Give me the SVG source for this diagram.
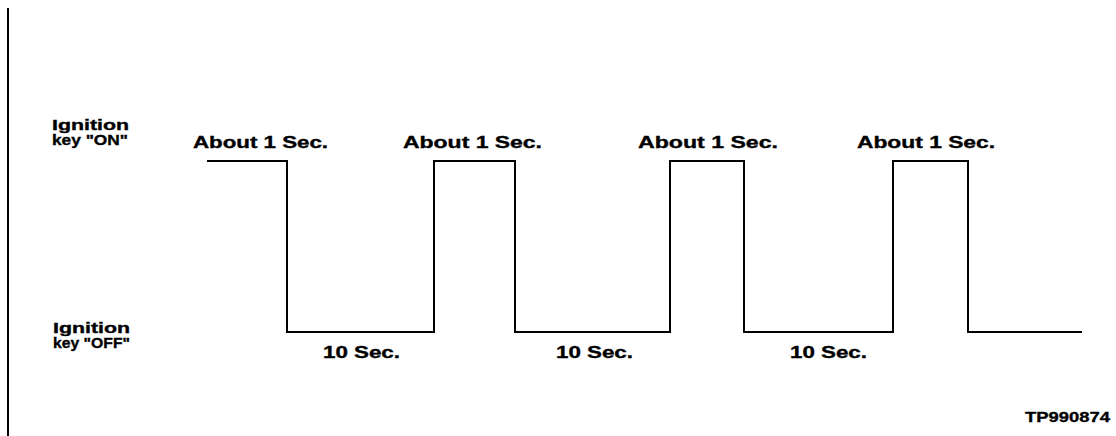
<svg xmlns="http://www.w3.org/2000/svg" width="1116" height="436" viewBox="0 0 1116 436">
  <style>
    .lbl { font-family: "Liberation Sans", Arial, sans-serif; font-weight: bold; fill: #000; stroke: #000; stroke-width: 0.35; }
    .wave { fill: none; stroke: #000; stroke-width: 2; stroke-linejoin: miter; }
    .edge { fill: none; stroke: #000; stroke-width: 2; }
  </style>
  <rect x="0" y="0" width="1116" height="436" fill="#fff"/>

  <!-- left frame edge -->
  <g id="frame">
    <line class="edge" x1="8" y1="8" x2="8" y2="436"/>
  </g>

  <!-- level labels -->
  <g id="level-on">
    <text class="lbl" x="52" y="130" font-size="15" textLength="77" lengthAdjust="spacingAndGlyphs">Ignition</text>
    <text class="lbl" x="52" y="145" font-size="15" textLength="76" lengthAdjust="spacingAndGlyphs">key "ON"</text>
  </g>
  <g id="level-off">
    <text class="lbl" x="53" y="333" font-size="15" textLength="77" lengthAdjust="spacingAndGlyphs">Ignition</text>
    <text class="lbl" x="53" y="348" font-size="15" textLength="77" lengthAdjust="spacingAndGlyphs">key "OFF"</text>
  </g>

  <!-- ON pulse durations -->
  <g id="on-1"><text class="lbl" x="193" y="148" font-size="16" textLength="135" lengthAdjust="spacingAndGlyphs">About 1 Sec.</text></g>
  <g id="on-2"><text class="lbl" x="403" y="148" font-size="16" textLength="139" lengthAdjust="spacingAndGlyphs">About 1 Sec.</text></g>
  <g id="on-3"><text class="lbl" x="638" y="148" font-size="16" textLength="140" lengthAdjust="spacingAndGlyphs">About 1 Sec.</text></g>
  <g id="on-4"><text class="lbl" x="857" y="148" font-size="16" textLength="138" lengthAdjust="spacingAndGlyphs">About 1 Sec.</text></g>

  <!-- OFF interval durations -->
  <g id="off-1"><text class="lbl" x="323" y="358" font-size="16" textLength="77" lengthAdjust="spacingAndGlyphs">10 Sec.</text></g>
  <g id="off-2"><text class="lbl" x="556" y="358" font-size="16" textLength="77" lengthAdjust="spacingAndGlyphs">10 Sec.</text></g>
  <g id="off-3"><text class="lbl" x="790" y="358" font-size="16" textLength="77" lengthAdjust="spacingAndGlyphs">10 Sec.</text></g>

  <!-- key state waveform -->
  <g id="connectors">
    <path class="wave" d="M207,161 H287 V332 H434 V161 H515 V332 H670 V161 H744 V332 H893 V161 H968 V332 H1082"/>
  </g>

  <!-- figure number -->
  <g id="fig-id">
    <text class="lbl" x="1025" y="422" font-size="15" textLength="85" lengthAdjust="spacingAndGlyphs">TP990874</text>
  </g>
</svg>
